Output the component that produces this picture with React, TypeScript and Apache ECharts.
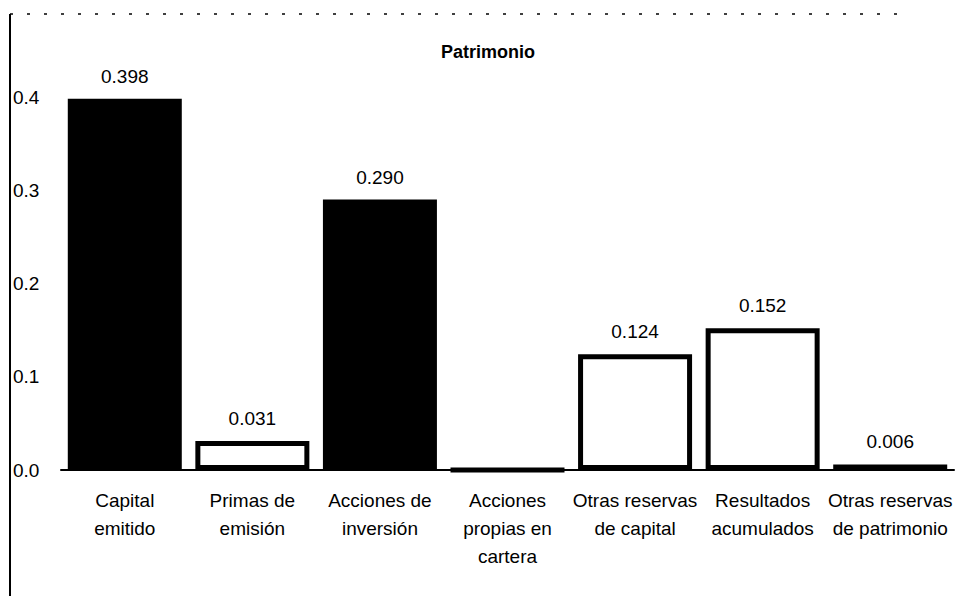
import React, { useEffect, useRef } from "react";
import * as echarts from "echarts";

const categories = [
  "Capital\nemitido",
  "Primas de\nemisión",
  "Acciones de\ninversión",
  "Acciones\npropias en\ncartera",
  "Otras reservas\nde capital",
  "Resultados\nacumulados",
  "Otras reservas\nde patrimonio",
];
const values = [0.398, 0.031, 0.29, 0, 0.124, 0.152, 0.006];
const filled = [true, false, true, false, false, false, false];
const yTicks = [0, 0.1, 0.2, 0.3, 0.4];
const title = "Patrimonio";

const FONT = "'Liberation Sans', Arial, sans-serif";
const FS = 19;

export default function App() {
  const ref = useRef<HTMLDivElement>(null);
  useEffect(() => {
    if (!ref.current) return;
    const chart = echarts.init(ref.current, undefined, { renderer: "svg" });
    chart.setOption({
      animation: false,
      backgroundColor: "#ffffff",
      title: {
        text: title,
        left: 483,
        top: 38,
        textAlign: "center",
        textStyle: { fontFamily: FONT, fontSize: 18, fontWeight: "bold", color: "#000" },
      },
      grid: { left: 61, right: 4, top: 97, bottom: 126, outerBoundsMode: "none" },
      xAxis: {
        type: "category",
        data: categories,
        axisLine: { show: true, lineStyle: { color: "#000", width: 2 } },
        axisTick: { show: false },
        axisLabel: {
          interval: 0,
          margin: 16,
          fontFamily: FONT,
          fontSize: FS,
          lineHeight: 28,
          color: "#000",
        },
      },
      yAxis: {
        type: "value",
        min: yTicks[0],
        max: yTicks[yTicks.length - 1],
        interval: 0.1,
        axisLine: { show: false },
        axisTick: { show: false },
        splitLine: { show: false },
        axisLabel: {
          align: "left",
          margin: 48,
          fontFamily: FONT,
          fontSize: FS,
          color: "#000",
          formatter: (v: number) => v.toFixed(1),
        },
      },
      series: [
        {
          type: "bar",
          barWidth: 114,
          data: values.map((v, i) => ({
            value: v,
            itemStyle: filled[i]
              ? { color: "#000", borderWidth: 0 }
              : { color: "#fff", borderColor: "#000", borderWidth: 5 },
          })),
          label: {
            show: true,
            position: "top",
            distance: 13,
            fontFamily: FONT,
            fontSize: FS,
            color: "#000",
            formatter: (p: any) => (p.value > 0 ? p.value.toFixed(3) : ""),
          },
        },
      ],
      graphic: [
        {
          type: "line",
          shape: { x1: 10, y1: 14, x2: 10, y2: 596 },
          style: { stroke: "#000", lineWidth: 2 },
        },
        {
          type: "line",
          shape: { x1: 10, y1: 14, x2: 900, y2: 14 },
          style: { stroke: "#000", lineWidth: 1.5, lineDash: [3, 14] },
        },
      ],
    });
    return () => chart.dispose();
  }, []);
  return (
    <div
      ref={ref}
      style={{ position: "fixed", left: 0, top: 0, width: 958, height: 596 }}
    />
  );
}
